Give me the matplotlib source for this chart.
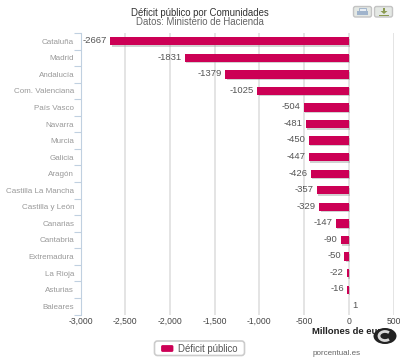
import matplotlib
matplotlib.use('Agg')
import matplotlib.pyplot as plt
import matplotlib.patheffects as pe
from matplotlib.patches import FancyBboxPatch, Rectangle, Polygon, Ellipse, Arc

plt.rcParams['font.family'] = ['Liberation Sans', 'DejaVu Sans']

comunidades = ['Cataluña', 'Madrid', 'Andalucía', 'Com. Valenciana', 'País Vasco',
               'Navarra', 'Murcia', 'Galicia', 'Aragón', 'Castilla La Mancha',
               'Castilla y León', 'Canarias', 'Cantabria', 'Extremadura',
               'La Rioja', 'Asturias', 'Baleares']
deficit = [-2667, -1831, -1379, -1025, -504, -481, -450, -447, -426, -357,
           -329, -147, -90, -50, -22, -16, 1]
xticks = [-3000, -2500, -2000, -1500, -1000, -500, 0, 500]
xlabels = ['-3,000', '-2,500', '-2,000', '-1,500', '-1,000', '-500', '0', '500']

W, H = 400, 360
fig = plt.figure(figsize=(4, 3.6), dpi=100)
ax = fig.add_axes([80.5 / W, 1 - 314.5 / H, (393.5 - 80.5) / W, (314.5 - 33) / H])

pos = list(range(len(comunidades)))
bars = ax.barh(pos, deficit, height=0.5, color='#CC0055', zorder=3)
for b in bars:
    b.set_path_effects([pe.SimplePatchShadow(offset=(1, -1), shadow_rgbFace='#999999', alpha=0.45),
                        pe.Normal()])

ax.set_xlim(-3000, 500)
ax.set_ylim(len(comunidades) - 0.5, -0.5)
ax.set_xticks(xticks)
ax.set_xticklabels(xlabels, fontsize=6.2, color='#444444')
ax.set_yticks(pos)
ax.set_yticklabels(comunidades, fontsize=5.8, color='#999999')
ax.set_yticks([p - 0.5 for p in pos] + [len(pos) - 0.5], minor=True)
ax.tick_params(axis='y', which='major', length=0, pad=4.5)
ax.tick_params(axis='y', which='minor', length=5, width=0.8, color='#C0D0E0')
ax.tick_params(axis='x', length=0, pad=1.5)
ax.grid(axis='x', color='#DDDDDD', linewidth=1.1, zorder=0)
for s in ['top', 'right', 'bottom']:
    ax.spines[s].set_visible(False)
ax.spines['left'].set_color('#C0D0E0')

# etiquetas de las barras
for p, v in zip(pos, deficit):
    if v < 0:
        ax.annotate(str(v), (v, p), xytext=(-2.5, 0.5), textcoords='offset points',
                    ha='right', va='center', fontsize=6.8, color='#555555', zorder=4)
    else:
        ax.annotate(str(v), (v, p), xytext=(2.5, 0.5), textcoords='offset points',
                    ha='left', va='center', fontsize=6.8, color='#555555', zorder=4)

# capa en pixeles para titulo, botones y leyenda
top = fig.add_axes([0, 0, 1, 1], facecolor='none')
top.set_xlim(0, W)
top.set_ylim(H, 0)
top.axis('off')

top.text(199.5, 13, 'Déficit público por Comunidades', ha='center', va='center',
         fontsize=6.9, color='#333333')
top.text(199.5, 22, 'Datos: Ministerio de Hacienda', ha='center', va='center',
         fontsize=6.9, color='#666666')

for x0 in [354, 375]:
    top.add_patch(FancyBboxPatch((x0, 7), 17, 9.5, boxstyle='round,pad=0.5,rounding_size=2',
                                 fc='#E4E8E4', ec='#C4C4C4', lw=1))
top.add_patch(Rectangle((359, 8), 7, 3, fc='#E8EEF4', ec='#9AAFC8', lw=0.6))
top.add_patch(Rectangle((357, 11), 11, 4, fc='#A0B4CC', ec='none'))
top.add_patch(Polygon([[380.5, 11], [387.5, 11], [384, 14]], fc='#8A9A50', ec='none'))
top.add_patch(Rectangle((383, 8), 2, 3, fc='#8A9A50', ec='none'))
top.add_patch(Rectangle((379, 14.5), 10, 1.5, fc='#8A9A50', ec='none'))

top.text(312, 331, 'Millones de euros', ha='left', va='center', fontsize=6.8,
         fontweight='bold', color='#222222')
top.add_patch(Ellipse((385, 336), 23, 16, fc='#222222', ec='none', zorder=5))
top.add_patch(Arc((385, 336), 12, 9, theta1=40, theta2=320, color='#D8D8D8', lw=2, zorder=6))

top.add_patch(FancyBboxPatch((155, 341.5), 89, 13.5, boxstyle='round,pad=0.5,rounding_size=3',
                             fc='white', ec='#CCCCCC', lw=1.2))
top.add_patch(FancyBboxPatch((161.5, 345.5), 11.5, 6, boxstyle='round,pad=0.4,rounding_size=1.5',
                             fc='#CC0055', ec='none'))
top.text(178, 349, 'Déficit público', ha='left', va='center', fontsize=6.9, color='#555555')
top.text(312.5, 353.5, 'porcentual.es', ha='left', va='center', fontsize=5.8, color='#666666')

fig.savefig('out.png', dpi=100)
